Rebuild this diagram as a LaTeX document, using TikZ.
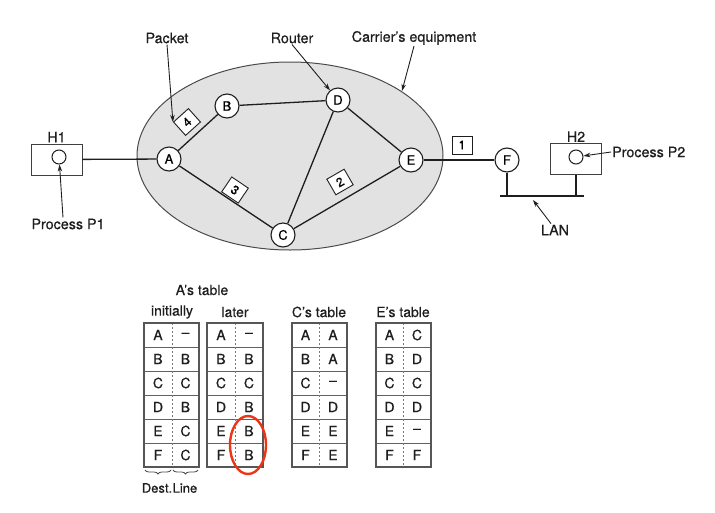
\documentclass[tikz,border=0pt]{standalone}
\usepackage{fontspec}
\setmainfont{TeX Gyre Heros}[FakeBold=0.5]
\usetikzlibrary{decorations.pathreplacing,arrows.meta}
\definecolor{cloud}{RGB}{226,226,226}
\definecolor{ink}{RGB}{30,30,30}
\definecolor{circlered}{RGB}{236,52,22}
\begin{document}
\begin{tikzpicture}[x=1pt,y=-1pt,
  router/.style={circle,draw=ink,fill=white,line width=1.1pt,inner sep=0pt,minimum size=24pt,font=\fontsize{13}{15}\selectfont},
  link/.style={draw=ink,line width=1.3pt},
  packet/.style={draw=ink,fill=white,line width=0.9pt,inner sep=0pt,minimum width=20pt,minimum height=18pt,font=\fontsize{12.5}{14}\selectfont},
  lbl/.style={font=\fontsize{14.3}{17}\selectfont,inner sep=1pt,text=ink},
  pointer/.style={-{Stealth[length=7pt,width=4.5pt]},draw=ink,line width=0.9pt},
  host/.style={draw=ink!85,line width=0.9pt,minimum width=51pt,minimum height=31pt,inner sep=0pt},
  proc/.style={circle,draw=ink,line width=1pt,minimum size=14pt,inner sep=0pt},
  frame/.style={draw=ink!75,line width=1.5pt},
  rowline/.style={draw=ink!70,line width=1pt},
  divider/.style={draw=ink!60,line width=1pt,dash pattern=on 2pt off 2pt},
  cell/.style={font=\fontsize{14}{16}\selectfont,inner sep=0pt,text=ink},
  thead/.style={font=\fontsize{14}{16}\selectfont,inner sep=1pt,text=ink},
]
\useasboundingbox (0,0) rectangle (715,512);

% carrier's subnet
\draw[ink!80,fill=cloud,line width=1pt] (290,156) ellipse [x radius=153, y radius=94];
\coordinate (cloudtop) at (402,91);

% routers
\node[router] (A) at (169,159) {A};
\node[router] (B) at (227,106) {B};
\node[router] (D) at (338,100) {D};
\node[router] (C) at (283,235) {C};
\node[router] (E) at (411,160) {E};
\node[router] (F) at (507,160) {F};

% hosts
\node[host] (H1) at (56.5,159.5) {};
\node[proc] (P1) at (59,157) {};
\node[lbl,above] (H1l) at (H1.north) {H1};
\node[host] (H2) at (576,159) {};
\node[proc] (P2) at (576,157) {};
\node[lbl,above] (H2l) at (H2.north) {H2};

% links
\draw[link] (H1) -- (A);
\draw[link] (A) -- (B);
\draw[link] (B) -- (D);
\draw[link] (A) -- (C);
\draw[link] (D) -- (C);
\draw[link] (D) -- (E);
\draw[link] (C) -- (E);
\draw[link] (E) -- (F);

% LAN
\coordinate (lanL) at (500,196);
\coordinate (lanR) at (584,196);
\coordinate (lanF) at (507,196);
\coordinate (lanH) at (576,196);
\coordinate (lanArrow) at (533,200);
\draw[link] (lanL) -- (lanR);
\draw[link] (F) -- (lanF);
\draw[link] (H2) -- (lanH);

% packets in transit
\node[packet,rotate=42] (p4) at (187,122) {4};
\node[packet,rotate=-34] (p3) at (235,190) {3};
\node[packet,rotate=30] (p2) at (340,182) {2};
\node[packet] (p1) at (462,145) {1};

% labels with pointers
\node[lbl] (packetl) at (167,38) {Packet};
\node[lbl] (routerl) at (292,38) {Router};
\node[lbl] (carrierl) at (414,38) {Carrier's equipment};
\node[lbl] (p1l) at (68,224) {Process P1};
\node[lbl,anchor=west] (p2l) at (611,152) {Process P2};
\node[lbl] (lanl) at (555,230) {LAN};
\draw[pointer] (packetl.south) -- (p4.north west);
\draw[pointer] (routerl.south) -- (D);
\draw[pointer] (carrierl.south) -- (cloudtop);
\draw[pointer] (p1l.north) ++(-5,0) -- (P1);
\draw[pointer] (p2l.west) -- (P2);
\draw[pointer] (lanl.north) ++(-4,0) -- (lanArrow);

% routing tables
\node[thead] (Atab) at (202,290) {A's table};
\node[thead] (initl) at (172,312) {initially};
\node[thead] (laterl) at (235,312) {later};
\node[thead] (Ctab) at (319,312) {C's table};
\node[thead] (Etab) at (403,312) {E's table};

\foreach \xl/\xd/\xr/\entries in {
  144/172/199/{A/--,B/B,C/C,D/B,E/C,F/C},
  207/235/263/{A/--,B/B,C/C,D/B,E/B,F/B},
  292/319/347/{A/A,B/A,C/--,D/D,E/E,F/E},
  376/403/431/{A/C,B/D,C/C,D/D,E/--,F/F}}{
  \foreach \k in {1,...,5}
    \draw[rowline] (\xl,323+24*\k) -- (\xr,323+24*\k);
  \draw[divider] (\xd,323) -- (\xd,467);
  \draw[frame] (\xl,323) rectangle (\xr,467);
  \foreach \d/\l [count=\i from 0] in \entries {
    \node[cell] at ({(\xl+\xd)/2},{335+24*\i}) {\d};
    \node[cell] at ({(\xd+\xr)/2},{335+24*\i}) {\l};
  }
}

% changed entries
\draw[draw=circlered,line width=2.4pt] (248,445) ellipse [x radius=18, y radius=29];

% column legend
\draw[ink!80,line width=0.8pt,decorate,decoration={brace,mirror,amplitude=4pt}] (145,470) -- (171,470);
\draw[ink!80,line width=0.8pt,decorate,decoration={brace,mirror,amplitude=4pt}] (173,470) -- (198,470);
\node[font=\fontsize{13}{15}\selectfont,inner sep=0pt,text=ink] (destl) at (157,488) {Dest.};
\node[font=\fontsize{13}{15}\selectfont,inner sep=0pt,text=ink] (linel) at (185,488) {Line};
\end{tikzpicture}
\end{document}
